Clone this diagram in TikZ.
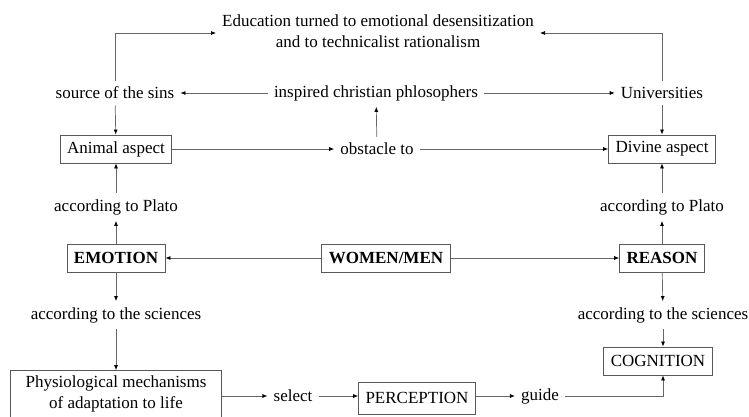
\documentclass[tikz,border=0pt]{standalone}
\usepackage{fontspec}
\setmainfont{Liberation Serif}
\usetikzlibrary{arrows.meta}

\tikzset{
	txt/.style={inner sep=6pt, align=center, font=\fontsize{17}{21}\selectfont},
	box/.style={txt, draw=black!65, line width=0.8pt, inner xsep=7pt, inner ysep=4pt, minimum height=28pt},
	boldbox/.style={box, font=\fontsize{17}{21}\selectfont\bfseries},
	link/.style={draw=black!60, line width=0.7pt, -{Latex[length=5pt,width=4pt,color=black]}}
}

\begin{document}
\begin{tikzpicture}[x=1pt, y=-1pt]
	% Nodes and links:
	\useasboundingbox (0, 0) rectangle (749, 417);
	\node[txt](title) at (378, 31){Education turned to emotional desensitization\\and to technicalist rationalism};
	\node[txt](sins) at (115, 93){source of the sins};
	\node[txt](inspired) at (376, 93){inspired christian phlosophers};
	\node[txt](univ) at (662, 93){Universities};
	\node[box](animal) at (116, 149){Animal aspect};
	\node[txt](obstacle) at (377, 149){obstacle to};
	\node[box](divine) at (662, 149){Divine aspect};
	\node[txt](platoL) at (116, 207){according to Plato};
	\node[txt](platoR) at (662, 207){according to Plato};
	\node[boldbox](emotion) at (116, 258){EMOTION};
	\node[boldbox](women) at (386, 258){WOMEN/MEN};
	\node[boldbox](reason) at (662, 258){REASON};
	\node[txt](sciL) at (116, 315){according to the sciences};
	\node[txt](sciR) at (663, 315){according to the sciences};
	\node[box, minimum height=47pt, inner xsep=15pt, inner ysep=2pt](physio) at (116, 394){Physiological mechanisms\\of adaptation to life};
	\node[txt](select) at (293, 396){select};
	\node[box, minimum height=32pt](perception) at (417, 398){PERCEPTION};
	\node[txt](guide) at (540, 396){guide};
	\node[box](cognition) at (658, 361){COGNITION};
	\draw[link] (sins.north) |- ([yshift=-2pt]title.west);
	\draw[link] (univ.north) |- ([yshift=-2pt]title.east);
	\draw[link] (inspired) -- (sins);
	\draw[link] (inspired) -- (univ);
	\draw[link] (sins) -- (animal);
	\draw[link] (univ) -- (divine);
	\draw[link] (obstacle) -- (inspired);
	\draw[link] (animal) -- (obstacle);
	\draw[link] (obstacle) -- (divine);
	\draw[link] (platoL) -- (animal);
	\draw[link] (platoR) -- (divine);
	\draw[link] (emotion) -- (platoL);
	\draw[link] (reason) -- (platoR);
	\draw[link] (women) -- (emotion);
	\draw[link] (women) -- (reason);
	\draw[link] (emotion) -- (sciL);
	\draw[link] (reason) -- (sciR);
	\draw[link] (sciL) -- (physio);
	\draw[link] (sciR.south) -- (sciR.south |- cognition.north);
	\draw[link] (physio.east |- select) -- (select);
	\draw[link] (select) -- (perception.west |- select);
	\draw[link] (perception.east |- guide) -- (guide);
	\draw[link] (guide.east) -| (sciR.south |- cognition.south);
\end{tikzpicture}
\end{document}
